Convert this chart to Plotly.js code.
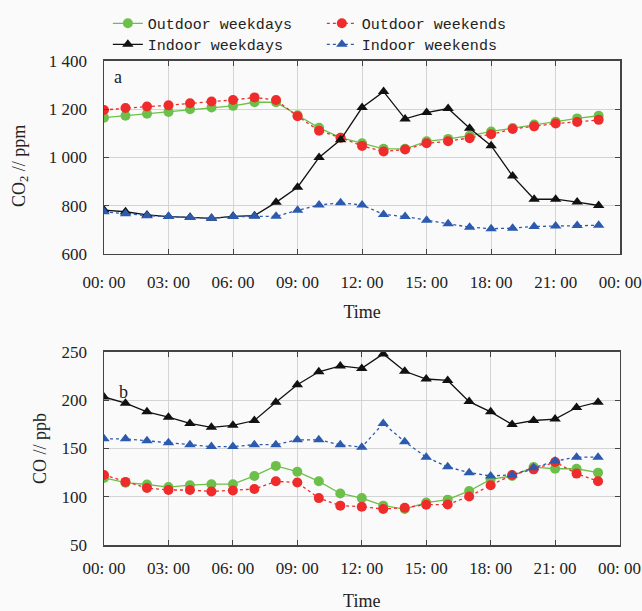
<!DOCTYPE html>
<html>
<head>
<meta charset="utf-8">
<script src="https://cdn.plot.ly/plotly-3.0.1.min.js"></script>
<style>html,body{margin:0;padding:0;background:#fafafa;}</style>
</head>
<body>
<div id="chart" style="width:642px;height:611px;"></div>
<script>
// hours of day
const hours = [0,1,2,3,4,5,6,7,8,9,10,11,12,13,14,15,16,17,18,19,20,21,22,23];
const tickVals = [0,3,6,9,12,15,18,21,24];
const tickText = ["00: 00","03: 00","06: 00","09: 00","12: 00","15: 00","18: 00","21: 00","00: 00"];

// CO2 (ppm)
const co2OutdoorWeekdays = [1165,1173,1181,1189,1200,1207,1214,1229,1229,1175,1123,1082,1059,1036,1036,1067,1077,1090,1108,1122,1137,1148,1162,1173];
const co2OutdoorWeekends = [1197,1205,1211,1216,1225,1232,1238,1249,1238,1171,1111,1082,1048,1025,1033,1059,1067,1080,1096,1118,1129,1141,1147,1156];
const co2IndoorWeekdays  = [782,775,762,755,752,748,756,759,814,877,1000,1073,1207,1273,1160,1186,1203,1121,1049,923,827,827,815,801];
const co2IndoorWeekends  = [775,767,759,755,751,748,755,756,756,781,803,812,803,764,755,740,725,711,705,707,714,716,718,719];

// CO (ppb)
const coOutdoorWeekdays = [119.5,114.6,112.7,110,112,113,113,121.6,132,126,116,103.4,98.6,90.8,87.3,94,97,106,118,121.6,130.8,129,129,125];
const coOutdoorWeekends = [122.6,115.4,109,107,107,105.5,106.5,108,116,114.7,98.6,90.8,89.7,87.3,88.7,91.8,92,100.3,112,122.6,128.4,136,124,116];
const coIndoorWeekdays  = [203.4,197,188,182.5,176,172,174,179,198,216,229.5,235.6,233,248,230,222,220.5,198.6,188,175,179,180.5,192.5,198];
const coIndoorWeekends  = [160,160,158,156,154,152,152,154,154,159,159,153.8,151.4,176,157,141,131,125,121.6,122.6,130,137,141,141];

const C = {green:"#6cc04a", red:"#ef2b2b", black:"#111111", blue:"#2b5aae"};
const circ = {symbol:"circle", size:10};
const tri = {symbol:"triangle-up", size:10};

function tr(y, name, color, marker, dash, xa, ya, show, leg) {
  return {x: hours, y: y, name: name, type: "scatter", mode: "lines+markers",
    xaxis: xa, yaxis: ya, showlegend: show, legendgroup: name, legend: leg,
    line: {color: color, width: 1.3, dash: dash},
    marker: Object.assign({color: color}, marker)};
}

const data = [
  tr(co2OutdoorWeekdays, "Outdoor weekdays", C.green, circ, "solid", "x", "y", true, "legend"),
  tr(co2OutdoorWeekends, "Outdoor weekends", C.red, circ, "dot", "x", "y", true, "legend"),
  tr(co2IndoorWeekdays, "Indoor weekdays", C.black, tri, "solid", "x", "y", true, "legend2"),
  tr(co2IndoorWeekends, "Indoor weekends", C.blue, tri, "dot", "x", "y", true, "legend2"),
  tr(coOutdoorWeekdays, "Outdoor weekdays", C.green, circ, "solid", "x2", "y2", false, "legend"),
  tr(coOutdoorWeekends, "Outdoor weekends", C.red, circ, "dot", "x2", "y2", false, "legend"),
  tr(coIndoorWeekdays, "Indoor weekdays", C.black, tri, "solid", "x2", "y2", false, "legend2"),
  tr(coIndoorWeekends, "Indoor weekends", C.blue, tri, "dot", "x2", "y2", false, "legend2")
];

const serif = "Liberation Serif, Times New Roman, serif";
const mono = "Liberation Mono, DejaVu Sans Mono, monospace";
const axisCommon = {
  showline: true, linecolor: "#444", linewidth: 1.5, mirror: "ticks",
  ticks: "inside", ticklen: 5, tickcolor: "#444", tickwidth: 1,
  showgrid: true, gridcolor: "#d4d4d4", gridwidth: 1, zeroline: false,
  tickfont: {family: serif, size: 17, color: "#222"}
};
const legCommon = {orientation: "h", xanchor: "left", yanchor: "top", x: 0.168,
  entrywidth: 169, bgcolor: "rgba(0,0,0,0)",
  font: {family: mono, size: 15, color: "#222"}};
const titleFont = {family: serif, size: 18, color: "#222"};

const layout = {
  width: 642, height: 611,
  paper_bgcolor: "#fafafa", plot_bgcolor: "#fafafa",
  margin: {l: 0, r: 0, t: 0, b: 0},
  separators: ". ",
  showlegend: true,
  legend: Object.assign({}, legCommon, {y: 0.9885}),
  legend2: Object.assign({}, legCommon, {y: 0.954}),
  xaxis: Object.assign({}, axisCommon, {domain: [0.162, 0.966], anchor: "y", range: [0, 24],
    tickvals: tickVals, ticktext: tickText, ticklabelstandoff: 12,
    title: {text: "Time", font: titleFont}}),
  yaxis: Object.assign({}, axisCommon, {domain: [0.5843, 0.9002], anchor: "x", range: [600, 1400],
    dtick: 200, tickformat: ",d", ticklabelstandoff: 12}),
  xaxis2: Object.assign({}, axisCommon, {domain: [0.162, 0.965], anchor: "y2", range: [0, 24],
    tickvals: tickVals, ticktext: tickText, ticklabelstandoff: 7,
    title: {text: "Time", font: titleFont}}),
  yaxis2: Object.assign({}, axisCommon, {domain: [0.108, 0.4239], anchor: "x2", range: [50, 250],
    dtick: 50, ticklabelstandoff: 12}),
  annotations: [
    {text: "CO<sub>2</sub> // ppm", xref: "paper", yref: "paper", x: 0.031, y: 0.728,
      textangle: -90, showarrow: false, xanchor: "center", yanchor: "middle", font: titleFont},
    {text: "CO // ppb", xref: "paper", yref: "paper", x: 0.0623, y: 0.2668,
      textangle: -90, showarrow: false, xanchor: "center", yanchor: "middle", font: titleFont},
    {text: "a", xref: "x", yref: "y", x: 0.37, y: 1333, showarrow: false, xanchor: "left",
      font: titleFont},
    {text: "b", xref: "x2", yref: "y2", x: 0.62, y: 209, showarrow: false, xanchor: "left",
      font: titleFont}
  ]
};

Plotly.newPlot("chart", data, layout, {displayModeBar: false, staticPlot: true});
</script>
</body>
</html>
